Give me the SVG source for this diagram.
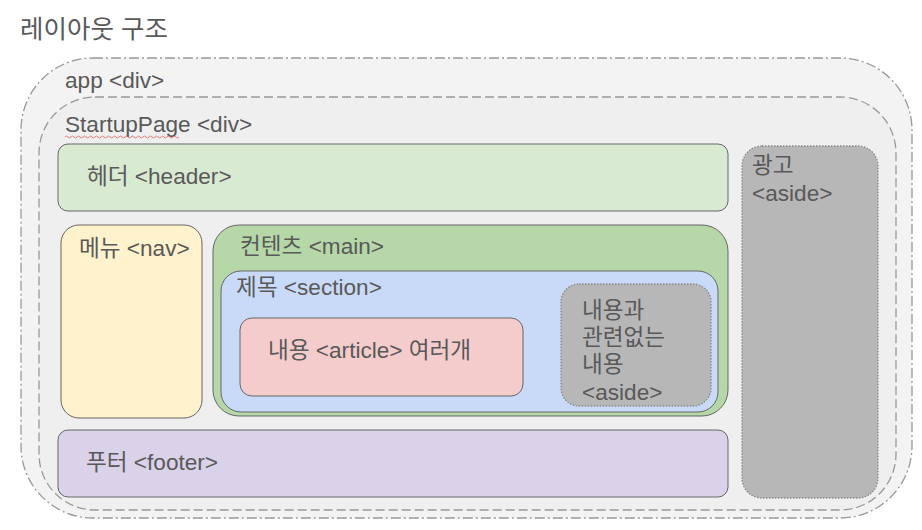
<svg xmlns="http://www.w3.org/2000/svg" width="922" height="530" viewBox="0 0 922 530">
<style>
text{font-family:"Liberation Sans","Noto Sans CJK KR",Arial,sans-serif;font-size:22.6px;fill:#595959}
.title{font-size:25.5px}
.box{stroke:#666;stroke-width:1}
.dot{stroke:#888;stroke-width:1.3;stroke-dasharray:1.5 1.5}
</style>
<rect width="922" height="530" fill="#ffffff"/>
<text class="title" x="20" y="38">레이아웃 구조</text>
<g id="app">
<rect x="21" y="58" width="891" height="460" rx="72" fill="#f3f3f3" stroke="#999" stroke-width="1.3" stroke-dasharray="10 3 2 3"/>
<text x="65" y="88">app &lt;div&gt;</text>
</g>
<g id="startup">
<rect x="39" y="97" width="857" height="413" rx="56" fill="#efefef" stroke="#999" stroke-width="1.3" stroke-dasharray="9 4"/>
<text x="65" y="132">StartupPage &lt;div&gt;</text>
<path d="M65 137 q1.5 -2 3 0 t3 0 t3 0 t3 0 t3 0 t3 0 t3 0 t3 0 t3 0 t3 0 t3 0 t3 0 t3 0 t3 0 t3 0 t3 0 t3 0 t3 0 t3 0 t3 0 t3 0 t3 0 t3 0 t3 0 t3 0 t3 0 t3 0 t3 0 t3 0 t3 0 t3 0 t3 0 t3 0 t3 0 t3 0 t3 0 t3 0 t3 0" fill="none" stroke="#e06060" stroke-width="0.8"/>
</g>
<g id="header">
<rect class="box" x="58" y="144" width="670" height="67" rx="10" fill="#d9ead3"/>
<text x="87" y="184">헤더 &lt;header&gt;</text>
</g>
<g id="ad">
<rect class="dot" x="742" y="146" width="136" height="352" rx="20" fill="#b7b7b7"/>
<text x="752" y="173">광고</text>
<text x="752" y="201">&lt;aside&gt;</text>
</g>
<g id="nav">
<rect class="box" x="61" y="225" width="141" height="193" rx="18" fill="#fff2cc"/>
<text x="79" y="256">메뉴 &lt;nav&gt;</text>
</g>
<g id="main">
<rect class="box" x="213" y="225" width="515" height="191" rx="26" fill="#b6d7a8"/>
<text x="240" y="254">컨텐츠 &lt;main&gt;</text>
</g>
<g id="section">
<rect class="box" x="221" y="271" width="497" height="141" rx="20" fill="#c9daf8"/>
<text x="236" y="295">제목 &lt;section&gt;</text>
</g>
<g id="article">
<rect class="box" x="240" y="318" width="283" height="78" rx="12" fill="#f4cccc"/>
<text x="268" y="358">내용 &lt;article&gt; 여러개</text>
</g>
<g id="inner-aside">
<rect class="dot" x="561" y="284" width="150" height="122" rx="18" fill="#b7b7b7"/>
<text x="582" y="318">내용과</text>
<text x="582" y="345">관련없는</text>
<text x="582" y="372">내용</text>
<text x="582" y="400">&lt;aside&gt;</text>
</g>
<g id="footer">
<rect class="box" x="58" y="430" width="670" height="67" rx="10" fill="#d9d2e9"/>
<text x="86" y="470">푸터 &lt;footer&gt;</text>
</g>
<g id="connectors"></g>
</svg>
